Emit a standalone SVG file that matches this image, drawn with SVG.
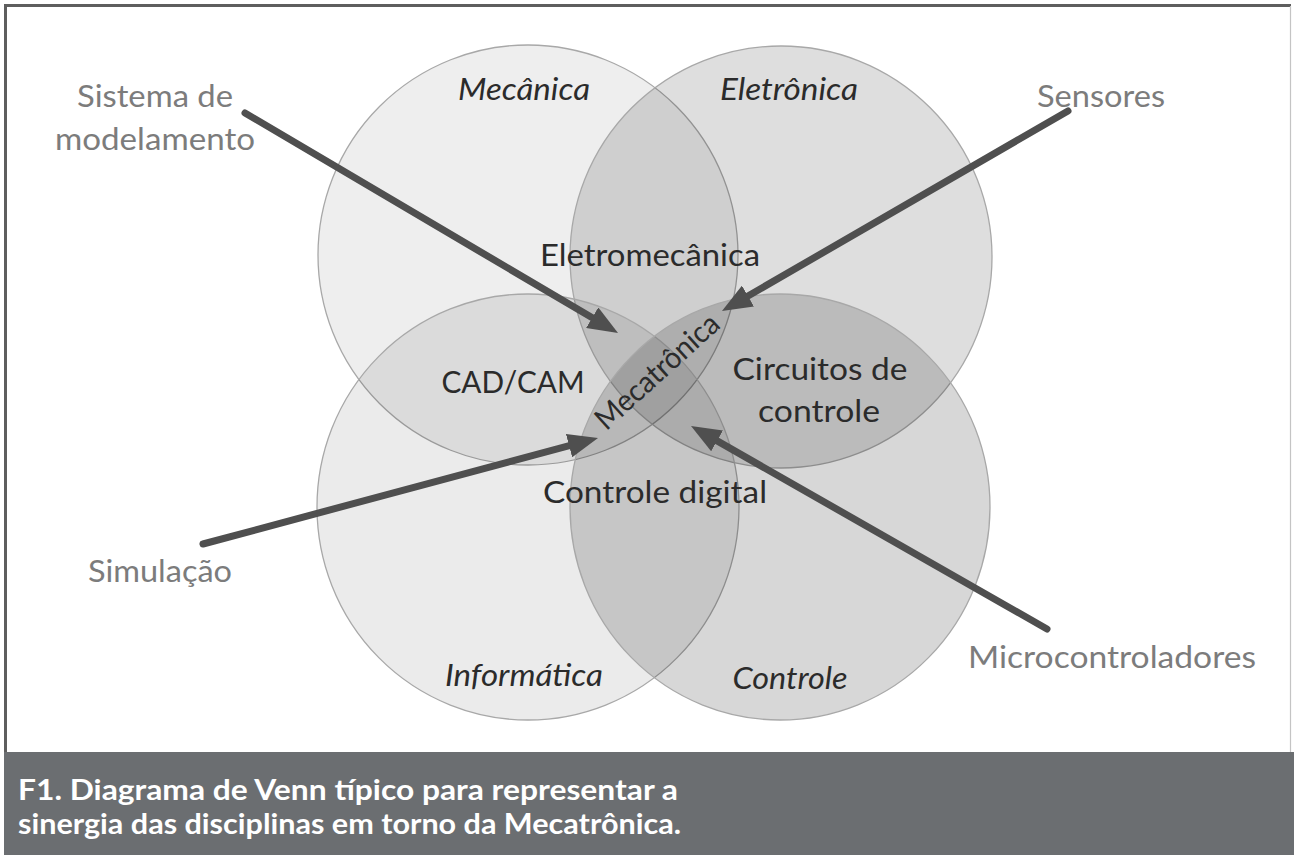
<svg xmlns="http://www.w3.org/2000/svg" width="1296" height="855" viewBox="0 0 1296 855">
  <style>
    .circle { fill: #000; stroke: #a8a8a8; stroke-width: 1.3; }
    .lbl { font-family: Lato, "Open Sans", "Liberation Sans", sans-serif; font-size: 30px; fill: #2b2b2b; text-anchor: middle; }
    .it { font-style: italic; }
    .out { font-family: Lato, "Open Sans", "Liberation Sans", sans-serif; font-size: 30px; fill: #7c7c7c; text-anchor: middle; }
    .cap { font-family: Lato, "Open Sans", "Liberation Sans", sans-serif; font-size: 28px; font-weight: bold; fill: #ffffff; }
    .arrow { stroke: #4f4f4f; stroke-width: 7; stroke-linecap: round; fill: none; marker-end: url(#head); }
  </style>
  <defs>
    <marker id="head" markerUnits="userSpaceOnUse" viewBox="0 0 30 24" refX="10" refY="12" markerWidth="30" markerHeight="24" orient="auto">
      <path d="M0,0 L30,12 L0,24 Z" fill="#4f4f4f"/>
    </marker>
  </defs>

  <!-- background and frame -->
  <rect x="0" y="0" width="1296" height="855" fill="#ffffff"/>
  <rect x="5" y="5" width="1285" height="748" fill="#ffffff"/>
  <line x1="4" y1="5.5" x2="1291" y2="5.5" stroke="#5e5e5e" stroke-width="3"/>
  <line x1="5.5" y1="4" x2="5.5" y2="753" stroke="#5e5e5e" stroke-width="3"/>
  <line x1="1290.5" y1="6" x2="1290.5" y2="753" stroke="#c4c4c4" stroke-width="1.2"/>
  <rect id="caption-band" x="4" y="752" width="1290" height="103" fill="#6b6e71"/>

  <!-- Venn circles -->
  <g id="mecanica">
    <circle class="circle" cx="528" cy="255" r="210" fill-opacity="0.065"/>
    <text class="lbl it" x="524" y="100" textLength="132" lengthAdjust="spacingAndGlyphs">Mecânica</text>
  </g>
  <g id="eletronica">
    <circle class="circle" cx="781" cy="257" r="211" fill-opacity="0.13"/>
    <text class="lbl it" x="789" y="100" textLength="138" lengthAdjust="spacingAndGlyphs">Eletrônica</text>
  </g>
  <g id="informatica">
    <ellipse class="circle" cx="528" cy="507" rx="211" ry="213" fill-opacity="0.08"/>
    <text class="lbl it" x="524" y="686" textLength="158" lengthAdjust="spacingAndGlyphs">Informática</text>
  </g>
  <g id="controle">
    <ellipse class="circle" cx="780" cy="507" rx="210" ry="213" fill-opacity="0.155"/>
    <text class="lbl it" x="790" y="689" textLength="115" lengthAdjust="spacingAndGlyphs">Controle</text>
  </g>

  <!-- intersection labels -->
  <g id="eletromecanica">
    <text class="lbl" x="650" y="266" textLength="220" lengthAdjust="spacingAndGlyphs">Eletromecânica</text>
  </g>
  <g id="cadcam">
    <text class="lbl" x="513" y="393" textLength="143" lengthAdjust="spacingAndGlyphs">CAD/CAM</text>
  </g>
  <g id="circuitos">
    <text class="lbl" x="820" y="380" textLength="175" lengthAdjust="spacingAndGlyphs">Circuitos de</text>
    <text class="lbl" x="819" y="422" textLength="122" lengthAdjust="spacingAndGlyphs">controle</text>
  </g>
  <g id="controle-digital">
    <text class="lbl" x="655" y="503" textLength="224" lengthAdjust="spacingAndGlyphs">Controle digital</text>
  </g>
  <g id="mecatronica">
    <text class="lbl" x="0" y="0" font-size="28" textLength="156" lengthAdjust="spacingAndGlyphs" transform="translate(664,379) rotate(-42.2)">Mecatrônica</text>
  </g>

  <!-- outer labels -->
  <g id="sistema">
    <text class="out" x="155" y="107" textLength="156" lengthAdjust="spacingAndGlyphs">Sistema de</text>
    <text class="out" x="155" y="150" textLength="200" lengthAdjust="spacingAndGlyphs">modelamento</text>
  </g>
  <g id="sensores">
    <text class="out" x="1101" y="107" textLength="128" lengthAdjust="spacingAndGlyphs">Sensores</text>
  </g>
  <g id="simulacao">
    <text class="out" x="160" y="582" textLength="144" lengthAdjust="spacingAndGlyphs">Simulação</text>
  </g>
  <g id="microcontroladores">
    <text class="out" x="1112" y="668" textLength="288" lengthAdjust="spacingAndGlyphs">Microcontroladores</text>
  </g>

  <!-- connectors -->
  <g id="connectors">
    <line class="arrow" x1="245" y1="113" x2="600.8" y2="322.8"/>
    <line class="arrow" x1="1068" y1="111" x2="739.3" y2="301.0"/>
    <line class="arrow" x1="203" y1="544" x2="578.7" y2="443.1"/>
    <line class="arrow" x1="1047" y1="629" x2="708.4" y2="435.9"/>
  </g>

  <!-- caption -->
  <g id="caption">
    <text class="cap" x="18" y="800" textLength="660" lengthAdjust="spacingAndGlyphs">F1. Diagrama de Venn típico para representar a</text>
    <text class="cap" x="18" y="834" textLength="663" lengthAdjust="spacingAndGlyphs">sinergia das disciplinas em torno da Mecatrônica.</text>
  </g>
</svg>
